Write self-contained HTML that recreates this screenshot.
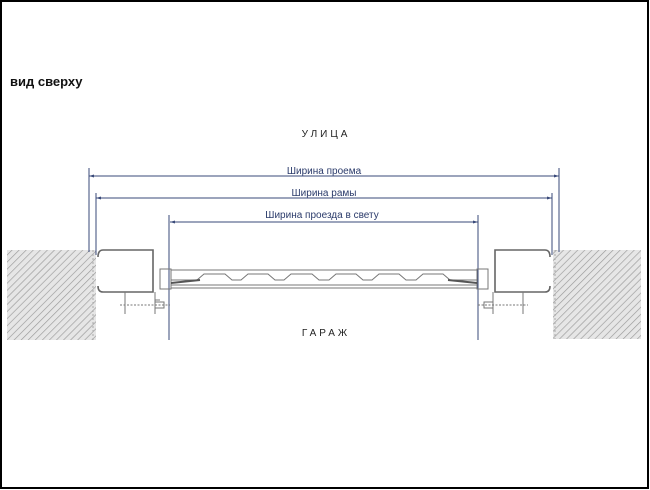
<!DOCTYPE html>
<html><head><meta charset="utf-8"><style>
html,body{margin:0;padding:0;background:#fff;}
svg{display:block;}
text{font-family:"Liberation Sans",sans-serif;}
</style></head><body>
<svg width="650" height="490" viewBox="0 0 650 490" xmlns="http://www.w3.org/2000/svg">
<defs>
<pattern id="h" patternUnits="userSpaceOnUse" width="5" height="5" patternTransform="rotate(45)">
<rect width="5" height="5" fill="#e6e6e6"/>
<line x1="0" y1="0" x2="0" y2="5" stroke="#999" stroke-width="1.3"/>
</pattern>
</defs>
<rect x="1" y="1" width="647" height="487" fill="#fff" stroke="#000" stroke-width="2"/>
<text x="10" y="86" font-size="13" font-weight="bold" fill="#111">вид сверху</text>
<text x="326" y="137" font-size="10" fill="#222" text-anchor="middle" letter-spacing="3">УЛИЦА</text>
<text x="326" y="336" font-size="10" fill="#222" text-anchor="middle" letter-spacing="3">ГАРАЖ</text>
<g fill="#2a3a6a" font-size="10" text-anchor="middle">
<text x="324" y="174">Ширина проема</text>
<text x="324" y="196">Ширина рамы</text>
<text x="322" y="218">Ширина проезда в свету</text>
</g>
<rect x="7" y="250" width="89" height="90" fill="url(#h)"/>
<rect x="553" y="250" width="88" height="89" fill="url(#h)"/>
<line x1="93" y1="250" x2="93" y2="340" stroke="#aaa" stroke-width="1" stroke-dasharray="2,2"/>
<line x1="555" y1="250" x2="555" y2="339" stroke="#aaa" stroke-width="1" stroke-dasharray="2,2"/>
<g stroke="#3a4a7a" stroke-width="1" fill="none">
<line x1="89" y1="176" x2="559" y2="176"/>
<line x1="96" y1="198" x2="552" y2="198"/>
<line x1="170" y1="222" x2="478" y2="222"/>
<line x1="89" y1="168" x2="89" y2="252"/>
<line x1="559" y1="168" x2="559" y2="252"/>
<line x1="96" y1="193" x2="96" y2="255"/>
<line x1="552" y1="193" x2="552" y2="255"/>
<line x1="169" y1="215" x2="169" y2="340"/>
<line x1="478" y1="215" x2="478" y2="340"/>
</g>
<g fill="#3a4a7a">
<path d="M89 176 l5 -1.5 v3z"/><path d="M559 176 l-5 -1.5 v3z"/>
<path d="M96 198 l5 -1.5 v3z"/><path d="M552 198 l-5 -1.5 v3z"/>
<path d="M170 222 l5 -1.5 v3z"/><path d="M478 222 l-5 -1.5 v3z"/>
</g>
<g stroke="#666" stroke-width="1.6" fill="none">
<path d="M98 257 q0 -7 5 -7 H153 V292 H103 q-5 0 -5 -6"/>
<path d="M550 257 q0 -7 -5 -7 H495 V292 H545 q5 0 5 -6"/>
</g>
<g stroke="#777" stroke-width="1" fill="none">
<line x1="125" y1="292" x2="125" y2="314"/>
<line x1="155" y1="292" x2="155" y2="314"/>
<line x1="155" y1="300" x2="160" y2="300"/>
<rect x="155" y="302" width="9" height="6"/>
<line x1="120" y1="305" x2="170" y2="305" stroke-dasharray="2,1.5"/>
<line x1="523" y1="292" x2="523" y2="314"/>
<line x1="493" y1="292" x2="493" y2="314"/>
<rect x="484" y="302" width="9" height="6"/>
<line x1="478" y1="305" x2="528" y2="305" stroke-dasharray="2,1.5"/>
<rect x="160" y="269" width="11" height="20"/>
<rect x="477" y="269" width="11" height="20"/>
<line x1="171" y1="270" x2="477" y2="270"/>
<line x1="171" y1="285" x2="477" y2="285"/>
<line x1="171" y1="288" x2="477" y2="288"/>
<path d="M171 280 H197 L204 274 H225 L232 280 H241 L248 274 H268 L275 280 H284 L291 274 H312 L319 280 H329 L336 274 H356 L363 280 H372 L379 274 H399 L406 280 H416 L423 274 H443 L450 280 H477"/>
<path d="M171 283 L200 280" stroke="#555" stroke-width="2"/>
<path d="M477 283 L448 280" stroke="#555" stroke-width="2"/>
</g>
</svg>
</body></html>
